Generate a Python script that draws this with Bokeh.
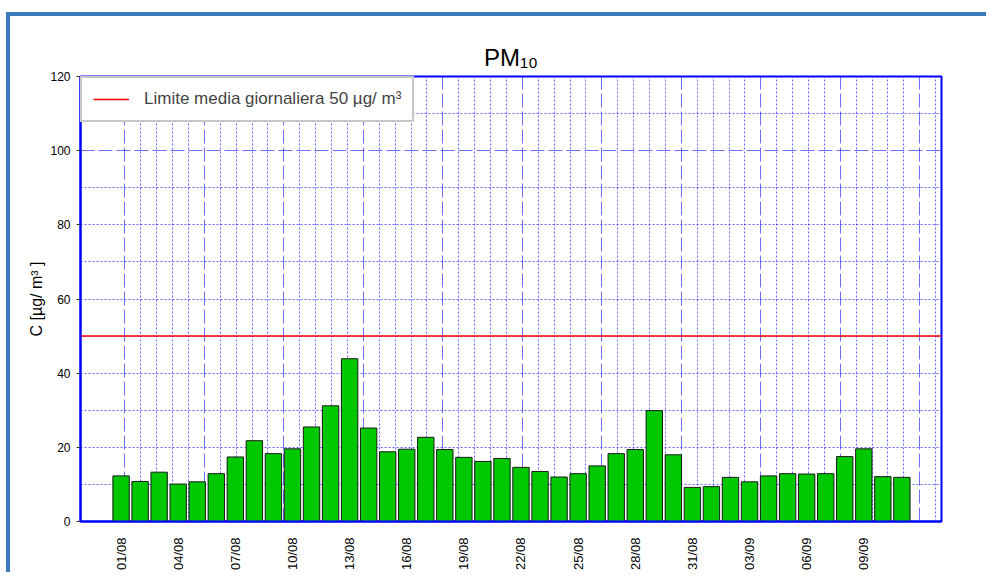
import numpy as np
from bokeh.plotting import figure
from bokeh.models import FixedTicker, Legend, LegendItem, ColumnDataSource, Range1d
from bokeh.embed import file_html
from bokeh.resources import INLINE

# ---------------- data ----------------
DATES = [f"{d:02d}/08" for d in range(1, 32)] + [f"{d:02d}/09" for d in range(1, 12)]
PM10 = [12.3, 10.8, 13.3, 10.1, 10.7, 12.9, 17.4, 21.8, 18.3, 19.6,
        25.5, 31.2, 43.9, 25.2, 18.8, 19.5, 22.7, 19.4, 17.3, 16.2,
        17.0, 14.6, 13.5, 12.0, 12.9, 15.0, 18.3, 19.4, 29.9, 18.0,
        9.2, 9.4, 11.9, 10.7, 12.3, 12.9, 12.8, 12.9, 17.5, 19.6,
        12.1, 11.9]
LIMIT = 50
X_TICK_LABELS = ["01/08", "04/08", "07/08", "10/08", "13/08", "16/08", "19/08",
                 "22/08", "25/08", "28/08", "31/08", "03/09", "06/09", "09/09"]
Y_TICKS = [0, 20, 40, 60, 80, 100, 120]
TITLE = "PM₁₀"
Y_LABEL = "C [µg/ m³ ]"
LEGEND_LABEL = f"Limite media giornaliera {LIMIT} µg/ m³"

# ---------------- layout ----------------
FONT = "Liberation Sans"
X_START, X_END = -2.13, 43.08
Y_START, Y_END = 0, 120

x = np.arange(len(DATES))
src = ColumnDataSource(dict(x=x, y=PM10, date=DATES))

p = figure(width=980, height=560, output_backend="svg", toolbar_location=None,
           x_range=Range1d(X_START, X_END), y_range=Range1d(Y_START, Y_END),
           min_border_left=70, min_border_right=49, min_border_top=60, min_border_bottom=55)
p.styles = {"border-left": "4px solid #3a7bbd", "border-top": "4px solid #3a7bbd",
            "margin-top": "12px", "margin-left": "6px"}
p.title.text = TITLE
p.title.align = "center"
p.title.text_font = FONT
p.title.text_font_size = "24px"
p.title.text_font_style = "normal"
p.title.text_color = "black"
p.title.standoff = 12
p.background_fill_color = "white"
p.border_fill_color = "white"
p.outline_line_color = "#0000ff"
p.outline_line_width = 2

# grids
major_step = 4.174
gx_major = [0.2 + major_step * k for k in range(11)]
gx_minor = [0.2 + major_step / 5 * k for k in range(52) if k % 5 != 0]
p.xgrid[0].ticker = FixedTicker(ticks=gx_major, minor_ticks=gx_minor)
p.xgrid.grid_line_color = "#3030ff"
p.xgrid.grid_line_alpha = 0.7
p.xgrid.grid_line_dash = "14 4"
p.xgrid.minor_grid_line_color = "#3030ff"
p.xgrid.minor_grid_line_alpha = 0.75
p.xgrid.minor_grid_line_dash = "2 2"

p.ygrid[0].ticker = FixedTicker(ticks=[100], minor_ticks=[v for v in range(10, 120, 10) if v != 100])
p.ygrid.grid_line_color = "#3030ff"
p.ygrid.grid_line_alpha = 0.7
p.ygrid.grid_line_dash = "14 4"
p.ygrid.minor_grid_line_color = "#3030ff"
p.ygrid.minor_grid_line_alpha = 0.75
p.ygrid.minor_grid_line_dash = "2 2"

# bars
p.vbar(x="x", top="y", width=0.86, bottom=0, source=src,
       fill_color="#00c800", line_color="#1a1a1a", line_width=1)

# limit line
lim = p.line(x=[X_START, X_END], y=[LIMIT, LIMIT], line_color="#ff0000", line_width=1.5)

# axes
tick_pos = [DATES.index(t) for t in X_TICK_LABELS]
p.xaxis.ticker = FixedTicker(ticks=tick_pos, minor_ticks=[])
p.xaxis.major_label_overrides = {int(k): v for k, v in zip(tick_pos, X_TICK_LABELS)}
p.xaxis.major_label_orientation = np.pi / 2
p.xaxis.major_tick_line_color = None
p.xaxis.minor_tick_line_color = None
p.xaxis.major_label_standoff = 10
p.xaxis.axis_line_color = "#0000ff"
p.xaxis.axis_line_width = 2
p.xaxis.major_label_text_font = FONT
p.xaxis.major_label_text_font_size = "13px"
p.xaxis.major_label_text_color = "black"

p.yaxis.ticker = FixedTicker(ticks=Y_TICKS, minor_ticks=[])
p.yaxis.major_tick_out = 4
p.yaxis.major_tick_in = 0
p.yaxis.major_tick_line_color = "#333333"
p.yaxis.minor_tick_line_color = None
p.yaxis.major_label_standoff = 6
p.yaxis.axis_line_color = "#0000ff"
p.yaxis.axis_line_width = 2
p.yaxis.major_label_text_font = FONT
p.yaxis.major_label_text_font_size = "12px"
p.yaxis.major_label_text_color = "black"
p.yaxis.axis_label = Y_LABEL
p.yaxis.axis_label_text_font = FONT
p.yaxis.axis_label_text_font_size = "16px"
p.yaxis.axis_label_text_font_style = "normal"
p.yaxis.axis_label_text_color = "black"
p.yaxis.axis_label_standoff = 2

# legend
legend = Legend(items=[LegendItem(label=LEGEND_LABEL, renderers=[lim])],
                location="top_left", margin=0, padding=11, glyph_width=36, glyph_height=20,
                label_standoff=15, label_text_font=FONT, label_text_font_size="17px",
                border_line_color="#909090", border_line_width=2,
                background_fill_color="white", background_fill_alpha=1.0)
p.add_layout(legend)

open("out.html", "w").write(file_html(p, INLINE))
